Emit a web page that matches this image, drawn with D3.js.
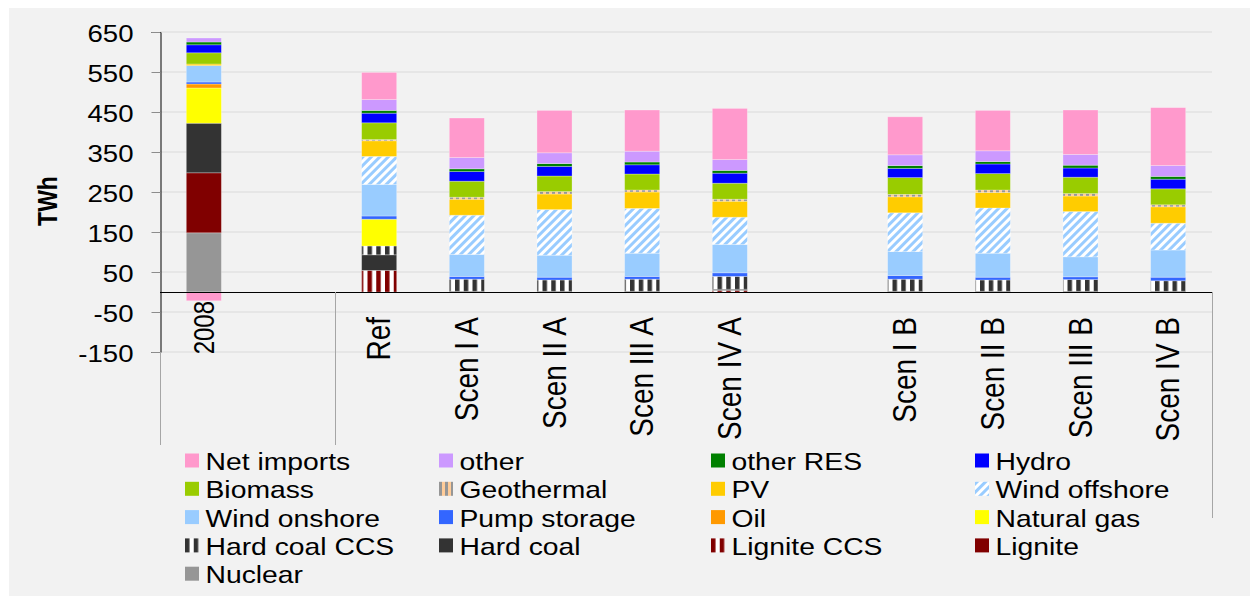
<!DOCTYPE html>
<html><head><meta charset="utf-8">
<script src="https://cdn.jsdelivr.net/npm/d3@7"></script>
<style>
body{margin:0;background:#fff;}
svg{display:block;font-family:"Liberation Sans",Arial,sans-serif;}
</style>
</head><body>
<svg id="c" width="1250" height="596"></svg>
<script>
// ---------- DATA ----------
const categories = ["2008","","Ref","Scen I A","Scen II A","Scen III A","Scen IV A","","Scen I B","Scen II B","Scen III B","Scen IV B"];
const nuclear      = [148,0,0,0,0,0,0,0,0,0,0,0];
const lignite      = [150,0,0,0,0,0,0,0,0,0,0,0];
const ligniteCCS   = [0,0,54,0,0,0,4,0,0,0,0,0];
const hardCoal     = [124,0,39,2,2,2,3,0,2,2,2,2];
const hardCoalCCS  = [0,0,22,30,28,30,32,0,30,28,29,26];
const naturalGas   = [88,0,67,0,0,0,0,0,0,0,0,0];
const oil          = [10,0,0,0,0,0,0,0,0,0,0,0];
const pumpStorage  = [5,0,8,7,7,7,9,0,9,7,7,9];
const windOnshore  = [41,0,79,55,55,58,71,0,60,60,50,68];
const windOffshore = [0,0,70,98,114,112,68,0,97,113,113,67];
const pv           = [4,0,39,40,39,41,40,0,40,39,39,41];
const geothermal   = [0,0,3,5,6,5,5,0,6,6,6,5];
const biomass      = [28,0,42,40,39,40,40,0,42,41,41,40];
const hydro        = [20,0,24,24,24,23,25,0,23,24,23,24];
const otherRES     = [7,0,7,7,7,7,7,0,7,6,7,7];
const other        = [10,0,27,28,27,27,27,0,27,27,27,27];
const netImports   = [-22,0,68,99,106,103,128,0,95,101,111,145];
const yTicks = [650,550,450,350,250,150,50,-50,-150];

// stack order (bottom -> top)
const seriesNames = ["Nuclear","Lignite","Lignite CCS","Hard coal","Hard coal CCS","Natural gas","Oil","Pump storage","Wind onshore","Wind offshore","PV","Geothermal","Biomass","Hydro","other RES","other","Net imports"];
const seriesValues = [nuclear,lignite,ligniteCCS,hardCoal,hardCoalCCS,naturalGas,oil,pumpStorage,windOnshore,windOffshore,pv,geothermal,biomass,hydro,otherRES,other,netImports];
// legend order (row-major, 4 columns)
const legendOrder = ["Net imports","other","other RES","Hydro","Biomass","Geothermal","PV","Wind offshore","Wind onshore","Pump storage","Oil","Natural gas","Hard coal CCS","Hard coal","Lignite CCS","Lignite","Nuclear"];

// ---------- STYLE ----------
const fills = {
  "Nuclear":"#969696","Lignite":"#800000","Lignite CCS":"url(#pLigCCS)","Hard coal":"#333333",
  "Hard coal CCS":"url(#pHcCCS)","Natural gas":"#ffff00","Oil":"#ff9900","Pump storage":"#3366ff",
  "Wind onshore":"#99ccff","Wind offshore":"url(#pWindOff)","PV":"#ffcc00","Geothermal":"url(#pGeo)",
  "Biomass":"#99cc00","Hydro":"#0000ff","other RES":"#008000","other":"#cc99ff","Net imports":"#ff99cc"
};
const SX = 1.2; // horizontal stretch of text in reference

const svg = d3.select("#c");
const defs = svg.append("defs");
function stripes(id, c1, w1, c2, period, rot){
  const p = defs.append("pattern").attr("id",id).attr("patternUnits","userSpaceOnUse")
    .attr("width",period).attr("height",period);
  if(rot) p.attr("patternTransform","rotate("+rot+")");
  p.append("rect").attr("width",period).attr("height",period).attr("fill",c2);
  p.append("rect").attr("width",w1).attr("height",period).attr("fill",c1);
}
stripes("pHcCCS","#333333",4.5,"#ffffff",8.75,0);
stripes("pLigCCS","#800000",4.5,"#ffffff",8.75,0);
stripes("pWindOff","#99ccff",3,"#ffffff",6,45);
stripes("pGeo","#969696",3,"#ffcc99",6,0);

// background
svg.append("rect").attr("x",9).attr("y",8).attr("width",1241).attr("height",588).attr("fill","#f2f2f2");

// scales
const x = d3.scaleBand().domain(d3.range(categories.length)).range([160,1212]).paddingInner(0.6).paddingOuter(0.3);
const y = d3.scaleLinear().domain([-150,650]).range([352,32]);
const step = x.step();

// gridlines
svg.append("g").selectAll("line").data(yTicks).join("line")
  .attr("x1",160).attr("x2",1212).attr("y1",d=>y(d)).attr("y2",d=>y(d))
  .attr("stroke","#dadada").attr("stroke-width",1);

// y axis
const yAxis = d3.axisLeft(y).tickValues(yTicks).tickSize(9).tickFormat(d3.format("d"));
const gy = svg.append("g").attr("transform","translate(160.5,0)").call(yAxis);
gy.select(".domain").attr("stroke","#000");
gy.selectAll(".tick line").attr("stroke","#8c8c8c");
gy.selectAll(".tick text").remove();
gy.selectAll(".tick").append("text")
  .attr("transform","translate(-27,9) scale("+SX+",1)")
  .attr("text-anchor","end").attr("fill","#000").attr("font-size",23)
  .attr("font-family","Liberation Sans, Arial, sans-serif")
  .text(d=>d);

// y title
svg.append("text").attr("transform","translate(57,201) scale("+SX+",1) rotate(-90)")
  .attr("text-anchor","middle").attr("font-weight","bold").attr("font-size",23).text("TWh");

// stacked data
const rows = categories.map((c,i)=>{ const r={idx:i}; seriesNames.forEach((s,k)=>r[s]=seriesValues[k][i]); return r; });
const stacked = d3.stack().keys(seriesNames).offset(d3.stackOffsetDiverging)(rows);

const gBars = svg.append("g");
stacked.forEach(layer=>{
  gBars.append("g").selectAll("rect").data(layer.filter(d=>d[1]!==d[0])).join("rect")
    .attr("x",d=>x(d.data.idx)).attr("width",x.bandwidth())
    .attr("y",d=>y(Math.max(d[0],d[1]))).attr("height",d=>Math.abs(y(d[0])-y(d[1])))
    .attr("fill",fills[layer.key]).attr("stroke","rgba(255,255,255,0.35)").attr("stroke-width",0.8);
});

// category axis line
svg.append("line").attr("x1",160).attr("x2",1212).attr("y1",y(0)+0.5).attr("y2",y(0)+0.5).attr("stroke","#000");
// group separators
[0,2,12].forEach(k=>{
  const xx = Math.round(160+k*step)+0.5;
  svg.append("line").attr("x1",xx).attr("x2",xx).attr("y1",k===0?352:y(0)).attr("y2",k===12?518:445)
    .attr("stroke","#a6a6a6");
});

// category labels
svg.append("g").selectAll("text").data(categories.map((c,i)=>({c,i})).filter(d=>d.c!=="")).join("text")
  .attr("transform",d=>"translate("+(x(d.i)+x.bandwidth()/2+(d.i===0?10:11))+","+(d.i===0?301:317)+") scale("+SX+",1) rotate(-90)")
  .attr("text-anchor","end").attr("font-size",d=>d.i===0?24:28).attr("fill","#000").text(d=>d.c);

// legend
const colX = [185,439,711,975];
const lg = svg.append("g").selectAll("g").data(legendOrder).join("g")
  .attr("transform",(d,i)=>"translate("+colX[i%4]+","+(453.5+Math.floor(i/4)*28.3)+")");
lg.append("rect").attr("width",14).attr("height",14).attr("fill",d=>fills[d]);
lg.append("text").attr("transform","translate(20.5,16.5) scale("+SX+",1)")
  .attr("font-size",23.6).attr("fill","#000").text(d=>d);
</script>
</body></html>
